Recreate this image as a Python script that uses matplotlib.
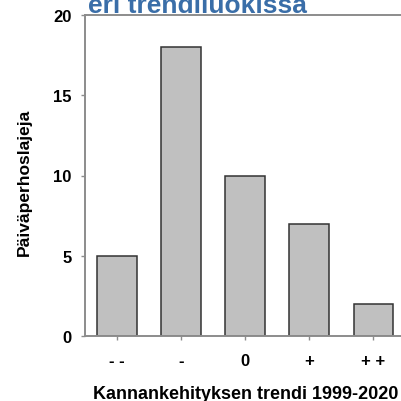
import matplotlib
matplotlib.use("Agg")
import matplotlib.pyplot as plt

categories = ["- -", "-", "0", "+", "+ +"]
species_counts = [5, 18, 10, 7, 2]
y_ticks = [0, 5, 10, 15, 20]

plt.rcParams["font.family"] = ["Liberation Sans", "DejaVu Sans"]

W, H = 401, 402
fig = plt.figure(figsize=(W / 100, H / 100), dpi=100)
ax = fig.add_axes([85 / W, (H - 337) / H, 320.5 / W, 321 / H])

x = range(len(categories))
ax.bar(x, species_counts, width=0.62, color="#c0c0c0",
       edgecolor="#333333", linewidth=1.1)

ax.set_xlim(-0.5, len(categories) - 0.5)
ax.set_ylim(0, 20)
ax.set_yticks(y_ticks)
ax.set_yticklabels([str(v) for v in y_ticks], fontsize=12, fontweight="bold")
ax.set_xticks(list(x))
ax.set_xticklabels(categories, fontsize=12, fontweight="bold")

for s in ax.spines.values():
    s.set_color("#8c8c8c")
    s.set_linewidth(1.4)
ax.tick_params(axis="y", length=3, width=1, color="#8c8c8c", pad=6.5)
ax.tick_params(axis="x", length=3, width=1, color="#8c8c8c", pad=9)

ax.set_ylabel("Päiväperhoslajeja", fontsize=12.5, fontweight="bold", va="center")
ax.yaxis.set_label_coords((24 - 85) / 320.5, 0.483)
ax.set_xlabel("Kannankehityksen trendi 1999-2020", fontsize=13,
              fontweight="bold", va="center")
ax.xaxis.set_label_coords(0.502, -0.178)

# title is cut off at the top in the original
fig.text(88 / W, (H - 13) / H, "eri trendiluokissa", fontsize=19,
         fontweight="bold", color="#3a6ea8", ha="left", va="baseline")

fig.savefig("out.png", dpi=100)
